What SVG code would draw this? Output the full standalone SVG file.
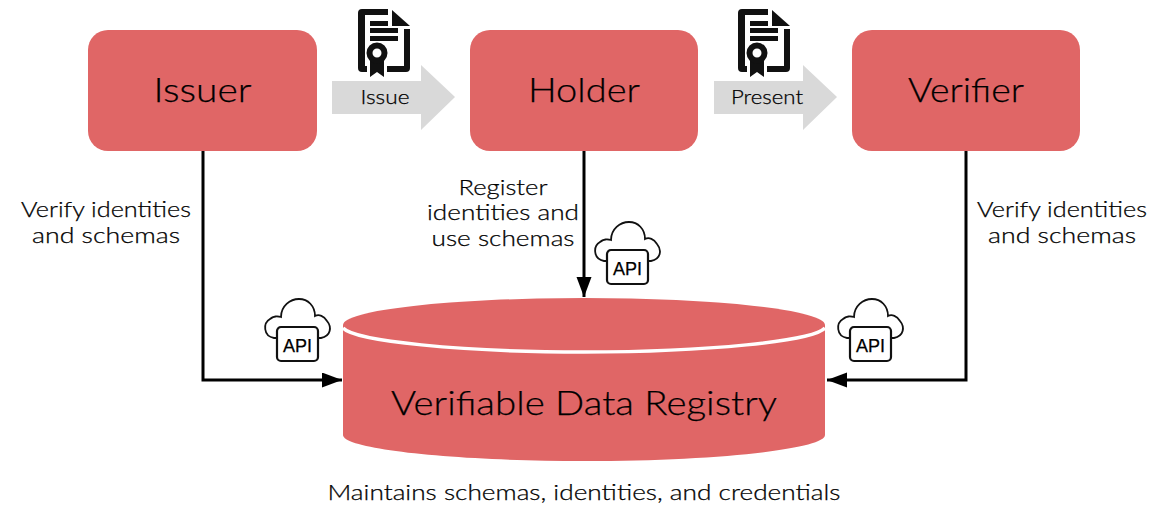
<svg xmlns="http://www.w3.org/2000/svg" xmlns:xlink="http://www.w3.org/1999/xlink" width="1176" height="527" viewBox="0 0 1176 527">
<style>
text{font-family:"Lato","Open Sans",sans-serif;fill:#000;stroke:#000;stroke-width:.25px;text-anchor:middle;font-weight:300}
.n{fill:#e06666}
.t{font-size:34px}
.l{font-size:21px}
.a{fill:#d9d9d9}
.c{fill:none;stroke:#000;stroke-width:3}
</style>
<defs>
<marker id="h" markerWidth="22" markerHeight="16" refX="20" refY="7.500" orient="auto" markerUnits="userSpaceOnUse"><path d="M0 0L20 7.500L0 15Z" fill="#000"/></marker>
<g id="doc">
<path fill="#111" d="M-15 -38H11V-32H-12V19H-7V25H-15Q-19 25 -19 21V-34Q-19 -38 -15 -38ZM27 -18H33V21Q33 25 29 25H8V19H27Z"/>
<path d="M15 -37V-21H33Z" fill="#111"/>
<path d="M-7 -26H11V-21H-7ZM-7 -19H21V-14H-7ZM-7 -11H21V-6H-7Z" fill="#111"/>
<path d="M-10 14H10V27H-10Z" fill="#fff"/>
<path d="M-7 12H7V30L0 25L-7 30Z" fill="#111"/>
<circle cx="0" cy="6" r="7.500" fill="#fff" stroke="#111" stroke-width="6"/>
</g>
<g id="api">
<path fill="none" stroke="#111" stroke-width="1.800" d="M-21 12H-23C-34 10 -34 -3 -27 -7C-24 -10 -19 -10 -16 -9C-16 -20 -7 -27 2 -27C11 -27 18 -20 18 -10C22 -12 27 -10 30 -5C35 1 34 10 24 12H21"/>
<rect x="-20" y="1" width="41" height="34" rx="4" fill="#fff" stroke="#111" stroke-width="2.200"/>
<text x="0.500" y="26" style="font-size:19px;font-family:'Liberation Sans',sans-serif;font-weight:400" textLength="29" lengthAdjust="spacingAndGlyphs">API</text>
</g>
</defs>

<g id="connectors">
<path class="c" d="M203 151V380H342" marker-end="url(#h)"/>
<path class="c" d="M584 151V297" marker-end="url(#h)"/>
<path class="c" d="M966 151V380H827" marker-end="url(#h)"/>
</g>

<g id="issuer"><rect class="n" x="88" y="30" width="229" height="121" rx="20"/><text class="t" x="202.500" y="102" textLength="98" lengthAdjust="spacingAndGlyphs">Issuer</text></g>
<g id="holder"><rect class="n" x="470" y="30" width="228" height="121" rx="20"/><text class="t" x="584" y="102" textLength="112" lengthAdjust="spacingAndGlyphs">Holder</text></g>
<g id="verifier"><rect class="n" x="852" y="30" width="228" height="121" rx="20"/><text class="t" x="966" y="102" textLength="116" lengthAdjust="spacingAndGlyphs">Verifier</text></g>

<g id="issue-arrow"><path class="a" d="M332 81H421V65L455 97L421 130V114H332Z"/><text class="l" x="385" y="104" style="font-size:19px" textLength="49" lengthAdjust="spacingAndGlyphs">Issue</text></g>
<g id="present-arrow"><path class="a" d="M714 81H803V65L837 97L803 130V114H714Z"/><text class="l" x="767" y="104" style="font-size:19px" textLength="72" lengthAdjust="spacingAndGlyphs">Present</text></g>
<use id="issue-doc" xlink:href="#doc" href="#doc" x="377" y="47"/>
<use id="present-doc" xlink:href="#doc" href="#doc" x="757" y="47"/>

<g id="registry">
<path class="n" d="M343 325V435C343 449 451 461 584 461S825 449 825 435V325Z"/>
<ellipse cx="584" cy="325" rx="241" ry="27" class="n"/>
<path d="M343 328C355 341 460 352 584 352S813 341 825 328" fill="none" stroke="#fff" stroke-width="3.500"/>
<text x="584" y="415" style="font-size:34px" textLength="386" lengthAdjust="spacingAndGlyphs">Verifiable Data Registry</text>
</g>

<use id="api-left" xlink:href="#api" href="#api" x="297" y="326"/>
<use id="api-center" xlink:href="#api" href="#api" x="627" y="249"/>
<use id="api-right" xlink:href="#api" href="#api" x="870" y="326"/>

<g id="labels">
<text class="l" x="106" y="217" textLength="170" lengthAdjust="spacingAndGlyphs">Verify identities</text>
<text class="l" x="106" y="243" textLength="148" lengthAdjust="spacingAndGlyphs">and schemas</text>
<text class="l" x="503" y="195" textLength="89" lengthAdjust="spacingAndGlyphs">Register</text>
<text class="l" x="503" y="220" textLength="152" lengthAdjust="spacingAndGlyphs">identities and</text>
<text class="l" x="503" y="246" textLength="143" lengthAdjust="spacingAndGlyphs">use schemas</text>
<text class="l" x="1062" y="217" textLength="170" lengthAdjust="spacingAndGlyphs">Verify identities</text>
<text class="l" x="1062" y="243" textLength="148" lengthAdjust="spacingAndGlyphs">and schemas</text>
<text class="l" x="584" y="500" textLength="513" lengthAdjust="spacingAndGlyphs">Maintains schemas, identities, and credentials</text>
</g>
</svg>
